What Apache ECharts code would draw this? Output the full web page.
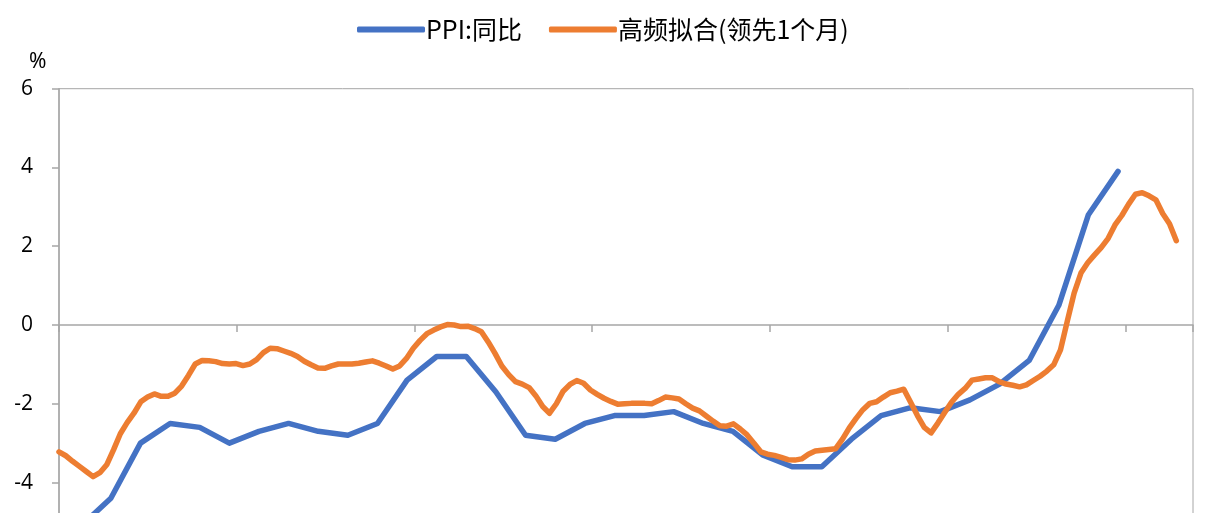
<!DOCTYPE html>
<html>
<head>
<meta charset="utf-8">
<script src="https://cdn.jsdelivr.net/npm/echarts@6/dist/echarts.min.js"></script>
<style>
  html, body { margin: 0; padding: 0; background: #fff; overflow: hidden; }
  #chart { width: 1206px; height: 600px; }
</style>
</head>
<body>
<div id="chart"></div>
<script>
// ---- data ----
const seriesNames = ['PPI:同比', '高频拟合(领先1个月)'];

// monthly PPI year-on-year, %
const ppiValues = [
  -5.1, -4.4, -3.0, -2.5, -2.6, -3.0, -2.7, -2.5, -2.7, -2.8,
  -2.5, -1.4, -0.8, -0.8, -1.7, -2.8, -2.9, -2.5, -2.3, -2.3,
  -2.2, -2.5, -2.7, -3.3, -3.6, -3.6, -2.9, -2.3, -2.1, -2.2,
  -1.9, -1.5, -0.9, 0.5, 2.8, 3.9
];

// weekly high-frequency fit (leading 1 month), %
const fitValues = [
  -3.22, -3.32, -3.46, -3.59, -3.72, -3.85, -3.75, -3.55, -3.17, -2.76,
  -2.48, -2.24, -1.95, -1.83, -1.75, -1.81, -1.81, -1.73, -1.55, -1.28,
  -0.99, -0.90, -0.91, -0.93, -0.98, -0.99, -0.98, -1.03, -0.99, -0.88,
  -0.70, -0.59, -0.60, -0.66, -0.72, -0.80, -0.92, -1.01, -1.09, -1.10,
  -1.04, -0.99, -0.99, -0.99, -0.97, -0.94, -0.91, -0.97, -1.04, -1.12,
  -1.04, -0.85, -0.59, -0.39, -0.22, -0.13, -0.05, 0.01, 0.00, -0.04,
  -0.03, -0.09, -0.17, -0.43, -0.72, -1.04, -1.26, -1.44, -1.50, -1.59,
  -1.80, -2.07, -2.24, -2.00, -1.68, -1.51, -1.41, -1.48, -1.65, -1.76,
  -1.86, -1.94, -2.01, -2.00, -1.99, -1.99, -1.99, -2.00, -1.92, -1.83,
  -1.85, -1.88, -2.00, -2.11, -2.18, -2.31, -2.44, -2.56, -2.57, -2.51,
  -2.64, -2.79, -3.00, -3.22, -3.28, -3.31, -3.36, -3.42, -3.43, -3.40,
  -3.28, -3.20, -3.18, -3.16, -3.14, -2.90, -2.61, -2.37, -2.15, -1.99,
  -1.95, -1.83, -1.72, -1.68, -1.63, -1.96, -2.30, -2.60, -2.74, -2.49,
  -2.22, -1.96, -1.76, -1.61, -1.40, -1.37, -1.34, -1.34, -1.44, -1.50,
  -1.53, -1.57, -1.52, -1.41, -1.30, -1.17, -1.01, -0.63, 0.10, 0.81,
  1.32, 1.58, 1.78, 1.97, 2.20, 2.54, 2.78, 3.07, 3.32, 3.36,
  3.28, 3.18, 2.83, 2.57, 2.14
];

// y-axis ticks
const yTicks = [-6, -4, -2, 0, 2, 4, 6];

// ---- time positions (x axis measured in months from the axis start) ----
const MONTH_OFFSET = 0.75;              // monthly readings sit late in each month
const WEEK = 7 / 30.4375;               // one week in months
const X_MAX = 38.28;                    // axis span in months
const ppiData = ppiValues.map((v, i) => [i + MONTH_OFFSET, v]);
const fitData = fitValues.map((v, w) => [w * WEEK, v]);

const axisGray = '#a6a6a6';
const chart = echarts.init(document.getElementById('chart'), null, { renderer: 'canvas' });
chart.setOption({
  backgroundColor: '#ffffff',
  animation: false,
  title: {
    text: '%',
    left: 24,
    top: 47,
    textStyle: { fontSize: 21, fontWeight: 'normal', color: '#000', fontFamily: 'Noto Sans, Open Sans, sans-serif' }
  },
  legend: {
    data: seriesNames,
    left: 352,
    top: 12,
    itemWidth: 68,
    itemHeight: 6,
    itemGap: 27,
    icon: 'roundRect',
    textStyle: { fontSize: 25, color: '#000', fontFamily: 'Noto Sans CJK SC, sans-serif', padding: [0, 0, 0, -4] }
  },
  grid: { left: 59, right: 13, top: 88.7, height: 472.6, show: true, borderColor: axisGray, borderWidth: 1, backgroundColor: 'transparent' },
  xAxis: {
    type: 'value',
    min: 0,
    max: X_MAX,
    interval: 6,
    axisLine: { onZero: true, lineStyle: { color: axisGray, width: 1.5 } },
    axisTick: { show: true, inside: false, length: 7, lineStyle: { color: axisGray, width: 1.5 } },
    axisLabel: { show: false },
    splitLine: { show: false }
  },
  yAxis: {
    type: 'value',
    min: yTicks[0],
    max: yTicks[yTicks.length - 1],
    interval: 2,
    axisLine: { show: true, lineStyle: { color: axisGray, width: 1.5 } },
    axisTick: { show: true, inside: false, length: 7, lineStyle: { color: axisGray, width: 1.5 } },
    axisLabel: { fontSize: 21, color: '#000', margin: 26, fontFamily: 'Open Sans, Noto Sans, sans-serif' },
    splitLine: { show: false }
  },
  series: [
    {
      name: seriesNames[0],
      type: 'line',
      data: ppiData,
      showSymbol: false,
      symbol: 'none',
      color: '#4472C4',
      lineStyle: { color: '#4472C4', width: 5.5, cap: 'round', join: 'round' },
      z: 2
    },
    {
      name: seriesNames[1],
      type: 'line',
      data: fitData,
      showSymbol: false,
      symbol: 'none',
      color: '#ED7D31',
      lineStyle: { color: '#ED7D31', width: 5.5, cap: 'round', join: 'round' },
      z: 3
    }
  ]
});
</script>
</body>
</html>
